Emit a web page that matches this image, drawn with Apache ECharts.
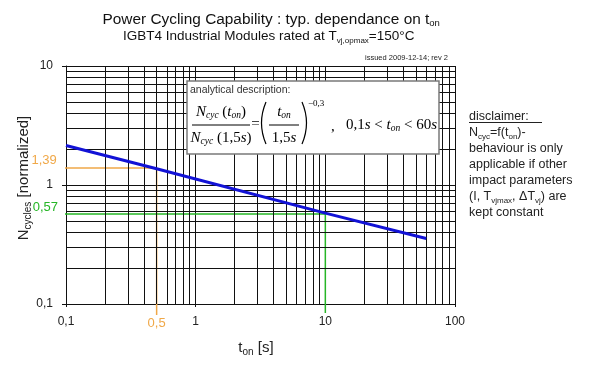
<!DOCTYPE html>
<html><head><meta charset="utf-8">
<script src="https://cdn.jsdelivr.net/npm/echarts@6/dist/echarts.min.js"></script>
<style>html,body{margin:0;padding:0;background:#fff}#c{width:597px;height:369px}</style>
</head><body><div id="c"></div>
<script>
// ---- data ----
const tOn = [0.1, 0.5, 10, 60];            // t_on [s]
const nCycles = [2.15, 1.37, 0.58, 0.355]; // N_cycles normalized
const markT = [0.5, 10];
const markN = [1.39, 0.57];
const markTLabels = ['0,5', ''];
const markNLabels = ['1,39', '0,57'];
const minorMult = [2, 3, 4, 5, 6, 7, 8, 9];
const xDecades = [0.1, 1, 10];
const yDecades = [0.1, 1];
// extension of annotation lines outside the plot (data units)
const extLeft = [0.082, 0.074];
const extBelow = [0.081, 0.084];

const SANS = 'Liberation Sans, Arial, sans-serif';
const SERIF = 'Liberation Serif, Times New Roman, serif';
const ORANGE = '#f0a848';
const GREEN = '#26b626';

const xMinor = [], yMinor = [];
xDecades.forEach(d => minorMult.forEach(m => xMinor.push(+(d * m).toPrecision(4))));
yDecades.forEach(d => minorMult.forEach(m => yMinor.push(+(d * m).toPrecision(4))));

const fmt = v => String(+(+v).toPrecision(3)).replace('.', ',');

const chart = echarts.init(document.getElementById('c'));
const option = {
  animation: false,
  backgroundColor: '#fff',
  grid: { left: 66, right: 142, top: 66, bottom: 65, containLabel: false },
  xAxis: {
    type: 'log', logBase: 10, min: 0.1, max: 100,
    axisLine: { show: true, lineStyle: { color: '#111', width: 1 } },
    axisTick: { show: true, length: 3, lineStyle: { color: '#111' } },
    axisLabel: { formatter: fmt, color: '#222', fontSize: 12, fontFamily: SANS, margin: 12 },
    splitLine: { show: true, lineStyle: { color: '#111', width: 1 } }
  },
  yAxis: {
    type: 'log', logBase: 10, min: 0.1, max: 10,
    axisLine: { show: true, lineStyle: { color: '#111', width: 1 } },
    axisTick: { show: true, length: 4, lineStyle: { color: '#111' } },
    axisLabel: { formatter: fmt, color: '#222', fontSize: 12, fontFamily: SANS, margin: 13 },
    splitLine: { show: true, lineStyle: { color: '#111', width: 1 } }
  },
  series: [
    {
      type: 'line', data: [], silent: true, z: 1,
      markLine: {
        silent: true, symbol: ['none', 'none'], label: { show: false }, animation: false,
        lineStyle: { color: '#111', width: 1, type: 'solid' },
        emphasis: { disabled: true },
        data: xMinor.map(v => ({ xAxis: v })).concat(yMinor.map(v => ({ yAxis: v })))
      }
    },
    {
      type: 'line', clip: false, symbol: 'none', z: 3, silent: true,
      lineStyle: { color: ORANGE, width: 1.5 },
      data: [[extLeft[0], markN[0]], [markT[0], markN[0]], [markT[0], extBelow[0]]]
    },
    {
      type: 'line', clip: false, symbol: 'none', z: 3, silent: true,
      lineStyle: { color: GREEN, width: 1.5 },
      data: [[extLeft[1], markN[1]], [markT[1], markN[1]], [markT[1], extBelow[1]]]
    },
    {
      type: 'line', symbol: 'none', z: 5, silent: true,
      lineStyle: { color: '#1212d6', width: 3 },
      data: tOn.map((t, i) => [t, nCycles[i]])
    }
  ]
};
chart.setOption(option);

const px = (x, y) => chart.convertToPixel({ gridIndex: 0 }, [x, y]);
const g = [];
// annotation labels
const oL = px(extLeft[0], markN[0]);
g.push({ type: 'text', x: oL[0] + 2, y: oL[1] - 8, z: 20, style: { text: markNLabels[0], fontSize: 13, fontFamily: SANS, fill: ORANGE, align: 'right', verticalAlign: 'middle' } });
const gL = px(extLeft[1], markN[1]);
g.push({ type: 'text', x: gL[0] + 9, y: gL[1] - 7, z: 20, style: { text: markNLabels[1], fontSize: 13, fontFamily: SANS, fill: GREEN, align: 'right', verticalAlign: 'middle' } });
const oB = px(markT[0], 0.1);
g.push({ type: 'text', x: oB[0], y: oB[1] + 19, z: 20, style: { text: markTLabels[0], fontSize: 13, fontFamily: SANS, fill: ORANGE, align: 'center', verticalAlign: 'middle' } });

// titles
g.push({ type: 'text', x: 102.5, y: 19.5, z: 20, style: { text: 'Power Cycling Capability : typ. dependance on t{s|on}', fontSize: 15.4, fontFamily: SANS, fill: '#111', align: 'left', verticalAlign: 'middle', lineHeight: 18, rich: { s: { fontSize: 9.5, fontFamily: SANS, fill: '#111', verticalAlign: 'bottom', lineHeight: 11 } } } });
g.push({ type: 'text', x: 123, y: 36.5, z: 20, style: { text: 'IGBT4 Industrial Modules rated at T{s|vj,opmax}=150°C', fontSize: 13.5, fontFamily: SANS, fill: '#111', align: 'left', verticalAlign: 'middle', lineHeight: 16, rich: { s: { fontSize: 8, fontFamily: SANS, fill: '#111', verticalAlign: 'bottom', lineHeight: 9 } } } });
g.push({ type: 'text', x: 448, y: 58, z: 20, style: { text: 'issued 2009-12-14; rev 2', fontSize: 7.5, fontFamily: SANS, fill: '#222', align: 'right', verticalAlign: 'middle' } });

// axis names
g.push({ type: 'text', x: 24, y: 178, rotation: Math.PI / 2, z: 20, style: { text: 'N{s|cycles} [normalized]', fontSize: 15, fontFamily: SANS, fill: '#222', align: 'center', verticalAlign: 'middle', lineHeight: 18, rich: { s: { fontSize: 10, fontFamily: SANS, fill: '#222', verticalAlign: 'bottom', lineHeight: 11 } } } });
g.push({ type: 'text', x: 256, y: 348, z: 20, style: { text: 't{s|on} [s]', fontSize: 15, fontFamily: SANS, fill: '#222', align: 'center', verticalAlign: 'middle', lineHeight: 18, rich: { s: { fontSize: 10, fontFamily: SANS, fill: '#222', verticalAlign: 'bottom', lineHeight: 11 } } } });

// formula box
g.push({ type: 'rect', z: 30, shape: { x: 187, y: 81, width: 252, height: 73 }, style: { fill: '#fff', stroke: '#7a7a7a', lineWidth: 1.5 } });
g.push({ type: 'text', x: 190, y: 90, z: 31, style: { text: 'analytical description:', fontSize: 10.5, fontFamily: SANS, fill: '#333', align: 'left', verticalAlign: 'middle' } });
const fr = {
  i: { fontStyle: 'italic', fontSize: 15, fontFamily: SERIF, fill: '#000', lineHeight: 17 },
  si: { fontStyle: 'italic', fontSize: 9.5, fontFamily: SERIF, fill: '#000', verticalAlign: 'bottom', lineHeight: 10 }
};
const ft = (x, y, text, align, size) => ({ type: 'text', x: x, y: y, z: 31, style: { text: text, fontSize: size || 15, fontFamily: SERIF, fill: '#000', align: align || 'center', verticalAlign: 'middle', lineHeight: 17, rich: fr } });
g.push(ft(221, 112, '{i|N}{si|cyc} ({i|t}{si|on})'));
g.push(ft(221, 138, '{i|N}{si|cyc} (1,5{i|s})'));
g.push({ type: 'line', z: 31, shape: { x1: 192, y1: 125, x2: 250, y2: 125 }, style: { stroke: '#000', lineWidth: 1 } });
g.push(ft(255.5, 124.5, '='));
g.push({ type: 'bezierCurve', z: 31, shape: { x1: 266, y1: 102, x2: 266, y2: 144, cpx1: 257, cpy1: 123 }, style: { stroke: '#000', lineWidth: 1.2, fill: null } });
g.push({ type: 'bezierCurve', z: 31, shape: { x1: 302, y1: 102, x2: 302, y2: 144, cpx1: 311, cpy1: 123 }, style: { stroke: '#000', lineWidth: 1.2, fill: null } });
g.push(ft(284, 112, '{i|t}{si|on}'));
g.push(ft(284, 138, '1,5{i|s}'));
g.push({ type: 'line', z: 31, shape: { x1: 269, y1: 125, x2: 299, y2: 125 }, style: { stroke: '#000', lineWidth: 1 } });
g.push(ft(308, 104, '\u22120,3', 'left', 9));
g.push(ft(331, 127, ',', 'left'));
g.push(ft(346, 125, '0,1{i|s} < {i|t}{si|on} < 60{i|s}', 'left'));

// disclaimer
g.push({ type: 'text', x: 469, y: 108.7, z: 20, style: {
  text: ['disclaimer:', 'N{s|cyc}=f(t{s|on})-', 'behaviour is only', 'applicable if other', 'impact parameters', '(I, T{s|vjmax}, \u0394T{s|vj}) are', 'kept constant'].join('\n'),
  fontSize: 12.5, fontFamily: SANS, fill: '#222', align: 'left', verticalAlign: 'top', lineHeight: 16,
  rich: { s: { fontSize: 8, fontFamily: SANS, fill: '#222', verticalAlign: 'bottom', lineHeight: 10 } } } });
g.push({ type: 'line', z: 20, shape: { x1: 469, y1: 122.5, x2: 542, y2: 122.5 }, style: { stroke: '#222', lineWidth: 1 } });

chart.setOption({ graphic: g });
</script></body></html>
